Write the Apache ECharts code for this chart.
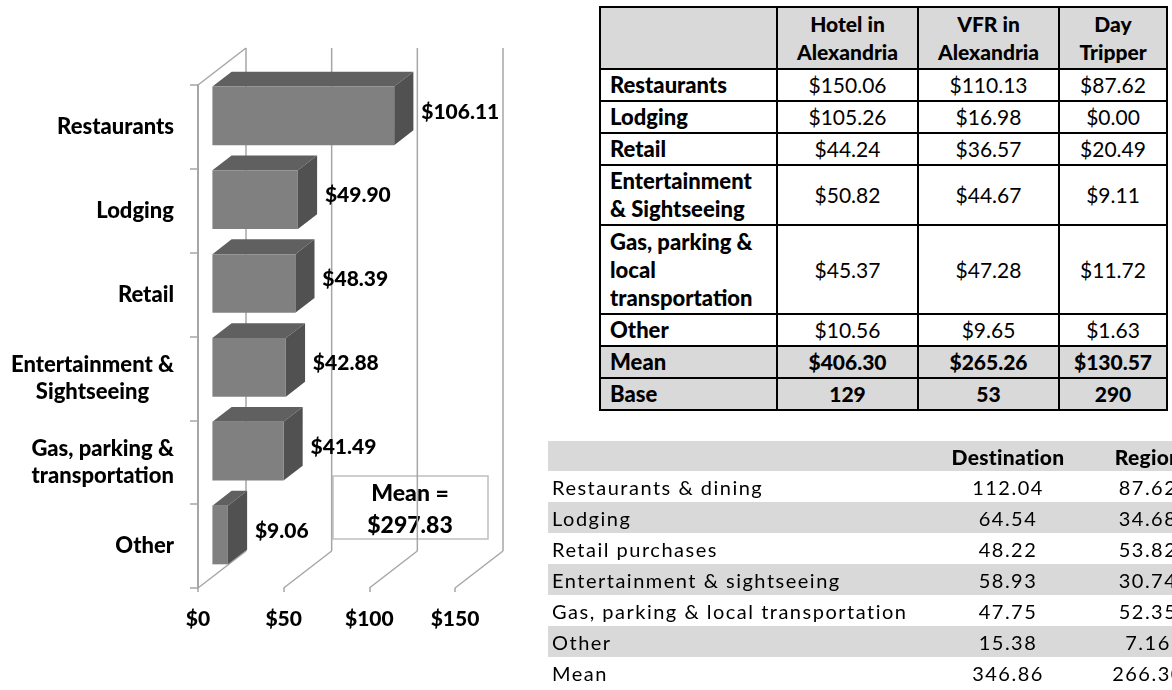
<!DOCTYPE html>
<html>
<head>
<meta charset="utf-8">
<script src="https://cdn.jsdelivr.net/npm/echarts@6/dist/echarts.min.js"></script>
<style>
    html, body { margin: 0; padding: 0; background: #fff; overflow: hidden; width: 1172px; height: 690px; }
    #chart { position: absolute; left: 0; top: 0; width: 560px; height: 690px; }
    .tbl { position: absolute; border-collapse: collapse; table-layout: fixed; font-family: Lato, 'Noto Sans', sans-serif; color: #000; }
    #segTable { left: 599px; top: 6px; font-size: 21px; line-height: 28px; }
    #segTable td { border: 2px solid #000; text-align: center; padding: 0; }
    #segTable td.lbl { text-align: left; padding-left: 9px; font-weight: 900; font-size: 22px; }
    #segTable tr.grey td { background: #d9d9d9; font-weight: 900; }
    #cmpWrap { position: absolute; left: 548px; top: 441px; width: 624px; height: 249px; overflow: hidden; }
    #cmpTable { position: static; font-size: 20px; letter-spacing: 1.5px; width: 672px; }
    #cmpTable td { padding: 0; height: 31px; text-align: center; white-space: nowrap; }
    #cmpTable td.lbl { text-align: left; padding-left: 4px; }
    #cmpTable tr.grey td { background: #d9d9d9; }
    #cmpTable tr.head td { font-weight: 900; height: 30px; letter-spacing: 0.3px; font-size: 21px; }
</style>
</head>
<body>
<div id="chart"></div>
<table id="segTable" class="tbl"></table>
<div id="cmpWrap"><table id="cmpTable" class="tbl"></table></div>
<script>
// 左侧 3D 条形图数据
const categories = ['Restaurants', 'Lodging', 'Retail', 'Entertainment &\nSightseeing', 'Gas, parking &\ntransportation', 'Other'];
const spending = [106.11, 49.90, 48.39, 42.88, 41.49, 9.06];
const meanSpend = 297.83;
const xTicks = [0, 50, 100, 150];

// 右上表格
const segmentHeads = ['Hotel in\nAlexandria', 'VFR in\nAlexandria', 'Day\nTripper'];
const segmentRows = ['Restaurants', 'Lodging', 'Retail', 'Entertainment\n& Sightseeing', 'Gas, parking &\nlocal\ntransportation', 'Other'];
const hotelValues = [150.06, 105.26, 44.24, 50.82, 45.37, 10.56];
const vfrValues = [110.13, 16.98, 36.57, 44.67, 47.28, 9.65];
const dayValues = [87.62, 0.00, 20.49, 9.11, 11.72, 1.63];
const segmentMeans = [406.30, 265.26, 130.57];
const segmentBases = [129, 53, 290];

// 右下表格
const compareHeads = ['Destination', 'Region'];
const compareRows = ['Restaurants & dining', 'Lodging', 'Retail purchases', 'Entertainment & sightseeing', 'Gas, parking & local transportation', 'Other', 'Mean'];
const destinationValues = [112.04, 64.54, 48.22, 58.93, 47.75, 15.38, 346.86];
const regionValues = [87.62, 34.68, 53.82, 30.74, 52.35, 7.16, 266.30];

const FONT = 'Lato, "Noto Sans", sans-serif';
const WALL = '#a6a6a6';
// 景深方向偏移 (像素)
const DX = 48, DY = -37;

function money(v) { return '$' + v.toFixed(2); }
function br(s) { return s.replace(/\n/g, '<br>'); }

// ---- 表格 1 ----
(function () {
    const widths = [177, 141, 141, 108];
    const heights = [62, 32, 32, 32, 60, 89, 32, 32, 32];
    let html = '<colgroup>' + widths.map(w => `<col style="width:${w}px">`).join('') + '</colgroup>';
    html += `<tr class="grey" style="height:${heights[0]}px"><td></td>` + segmentHeads.map(h => `<td>${br(h)}</td>`).join('') + '</tr>';
    segmentRows.forEach((r, i) => {
        html += `<tr style="height:${heights[i + 1]}px"><td class="lbl">${br(r)}</td>` +
            [hotelValues[i], vfrValues[i], dayValues[i]].map(v => `<td>${money(v)}</td>`).join('') + '</tr>';
    });
    html += `<tr class="grey" style="height:${heights[7]}px"><td class="lbl">Mean</td>` + segmentMeans.map(v => `<td>${money(v)}</td>`).join('') + '</tr>';
    html += `<tr class="grey" style="height:${heights[8]}px"><td class="lbl">Base</td>` + segmentBases.map(v => `<td>${v}</td>`).join('') + '</tr>';
    document.getElementById('segTable').innerHTML = html;
})();

// ---- 表格 2 ----
(function () {
    const widths = [392, 136, 144];
    let html = '<colgroup>' + widths.map(w => `<col style="width:${w}px">`).join('') + '</colgroup>';
    html += '<tr class="head grey"><td></td>' + compareHeads.map(h => `<td>${h}</td>`).join('') + '</tr>';
    compareRows.forEach((r, i) => {
        const cls = i % 2 === 1 ? ' class="grey"' : '';
        html += `<tr${cls}><td class="lbl">${r}</td><td>${destinationValues[i].toFixed(2)}</td><td>${regionValues[i].toFixed(2)}</td></tr>`;
    });
    document.getElementById('cmpTable').innerHTML = html;
})();

// ---- 3D 条形图 ----
const chart = echarts.init(document.getElementById('chart'));

function catLabel(v) {
    if (v.indexOf('\n') < 0) return v;
    return v.split('\n').map(s => '{c|' + s + '}').join('\n');
}

const labelStyle = { fontFamily: FONT, fontWeight: 900, fontSize: 21, color: '#000' };

const option = {
    animation: false,
    grid: { left: 198, top: 85, width: 257, height: 503 },
    xAxis: {
        type: 'value', min: 0, max: 150, interval: 50,
        axisLine: { show: false },
        axisTick: { show: true, length: 4, lineStyle: { color: WALL, width: 1.5 } },
        splitLine: { show: false },
        axisLabel: { ...labelStyle, margin: 21, formatter: v => '$' + v }
    },
    yAxis: {
        type: 'category', data: categories, inverse: true,
        axisLine: { show: true, lineStyle: { color: WALL, width: 2 } },
        axisTick: { show: true, length: 8, lineStyle: { color: WALL, width: 1.5 } },
        axisLabel: {
            ...labelStyle, fontSize: 22, margin: 24, lineHeight: 27, formatter: catLabel,
            rich: { c: { ...labelStyle, fontSize: 22, lineHeight: 27, align: 'center' } }
        }
    },
    series: [
        {
            // 背景墙和底面
            type: 'custom', clip: false, silent: true, z: 1,
            data: [[0, 0]],
            encode: { x: 0, y: 1 },
            renderItem: function (params, api) {
                const cs = params.coordSys;
                const top = cs.y, bot = cs.y + cs.height;
                const st = { stroke: WALL, lineWidth: 1.5, fill: null };
                const children = [];
                xTicks.forEach(v => {
                    const x = api.coord([v, 0])[0];
                    children.push({ type: 'line', shape: { x1: x + DX, y1: top + DY, x2: x + DX, y2: bot + DY }, style: st });
                    children.push({ type: 'line', shape: { x1: x, y1: bot, x2: x + DX, y2: bot + DY }, style: st });
                });
                const x0 = api.coord([0, 0])[0];
                children.push({ type: 'line', shape: { x1: x0, y1: top, x2: x0 + DX, y2: top + DY }, style: st });
                return { type: 'group', children: children };
            }
        },
        {
            type: 'custom', clip: false, z: 2,
            data: spending.map((v, i) => [v, i]),
            encode: { x: 0, y: 1 },
            renderItem: function (params, api) {
                const val = api.value(0), idx = api.value(1);
                const end = api.coord([val, idx]);
                const start = api.coord([0, idx]);
                const h = api.size([0, 1])[1] * 0.70;
                const top = end[1] - h / 2, bot = end[1] + h / 2;
                const fx = DX * 0.3, fy = DY * 0.3, bx = DX * 0.7, by = DY * 0.7;
                const xl = start[0], xr = end[0];
                return {
                    type: 'group',
                    children: [
                        { type: 'polygon', shape: { points: [[xl + fx, top + fy], [xr + fx, top + fy], [xr + bx, top + by], [xl + bx, top + by]] }, style: { fill: '#606060' } },
                        { type: 'polygon', shape: { points: [[xr + fx, top + fy], [xr + bx, top + by], [xr + bx, bot + by], [xr + fx, bot + fy]] }, style: { fill: '#515151' } },
                        { type: 'rect', shape: { x: xl + fx, y: top + fy, width: xr - xl, height: h }, style: { fill: '#808080' } },
                        {
                            type: 'text', x: xr + fx + 27, y: end[1] + fy - 4,
                            style: { text: money(val), font: '900 21px ' + FONT, fill: '#000', align: 'left', verticalAlign: 'middle' }
                        }
                    ]
                };
            }
        }
    ],
    graphic: [
        {
            type: 'group', z: 10,
            children: [
                { type: 'rect', shape: { x: 333, y: 476, width: 155, height: 63 }, style: { fill: '#fff', stroke: '#bfbfbf', lineWidth: 1.5 } },
                {
                    type: 'text', x: 410, y: 510,
                    style: { text: 'Mean =\n' + money(meanSpend), font: '900 23px ' + FONT, fill: '#000', align: 'center', verticalAlign: 'middle', lineHeight: 32 }
                }
            ]
        }
    ]
};

chart.setOption(option);
</script>
</body>
</html>
